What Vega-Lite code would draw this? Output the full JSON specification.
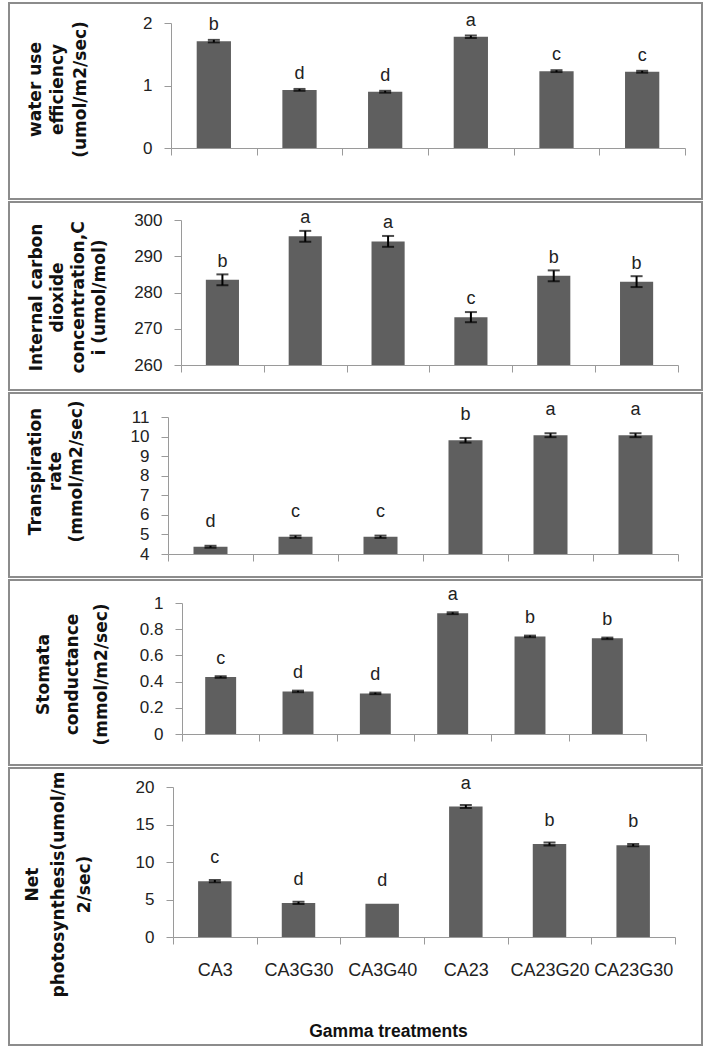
{
  "$schema": "https://vega.github.io/schema/vega-lite/v6.json",
  "background": "white",
  "padding": {"left": 8, "top": 2, "right": 0, "bottom": 0},
  "spacing": 1,
  "datasets": {
    "wue": [
      {"treatment": "CA3", "value": 1.71, "se": 0.02, "letter": "b"},
      {"treatment": "CA3G30", "value": 0.93, "se": 0.015, "letter": "d"},
      {"treatment": "CA3G40", "value": 0.9, "se": 0.015, "letter": "d"},
      {"treatment": "CA23", "value": 1.78, "se": 0.02, "letter": "a"},
      {"treatment": "CA23G20", "value": 1.23, "se": 0.015, "letter": "c"},
      {"treatment": "CA23G30", "value": 1.22, "se": 0.015, "letter": "c"}
    ],
    "ci": [
      {"treatment": "CA3", "value": 283.5, "se": 1.5, "letter": "b"},
      {"treatment": "CA3G30", "value": 295.5, "se": 1.5, "letter": "a"},
      {"treatment": "CA3G40", "value": 294.1, "se": 1.5, "letter": "a"},
      {"treatment": "CA23", "value": 273.2, "se": 1.4, "letter": "c"},
      {"treatment": "CA23G20", "value": 284.6, "se": 1.5, "letter": "b"},
      {"treatment": "CA23G30", "value": 283.0, "se": 1.5, "letter": "b"}
    ],
    "tr": [
      {"treatment": "CA3", "value": 4.37, "se": 0.05, "letter": "d"},
      {"treatment": "CA3G30", "value": 4.88, "se": 0.06, "letter": "c"},
      {"treatment": "CA3G40", "value": 4.88, "se": 0.06, "letter": "c"},
      {"treatment": "CA23", "value": 9.81, "se": 0.12, "letter": "b"},
      {"treatment": "CA23G20", "value": 10.07, "se": 0.1, "letter": "a"},
      {"treatment": "CA23G30", "value": 10.07, "se": 0.1, "letter": "a"}
    ],
    "gs": [
      {"treatment": "CA3", "value": 0.435, "se": 0.006, "letter": "c"},
      {"treatment": "CA3G30", "value": 0.325, "se": 0.006, "letter": "d"},
      {"treatment": "CA3G40", "value": 0.31, "se": 0.006, "letter": "d"},
      {"treatment": "CA23", "value": 0.922, "se": 0.007, "letter": "a"},
      {"treatment": "CA23G20", "value": 0.745, "se": 0.006, "letter": "b"},
      {"treatment": "CA23G30", "value": 0.73, "se": 0.006, "letter": "b"}
    ],
    "pn": [
      {"treatment": "CA3", "value": 7.45, "se": 0.15, "letter": "c"},
      {"treatment": "CA3G30", "value": 4.55, "se": 0.15, "letter": "d"},
      {"treatment": "CA3G40", "value": 4.42, "se": 0, "letter": "d"},
      {"treatment": "CA23", "value": 17.4, "se": 0.2, "letter": "a"},
      {"treatment": "CA23G20", "value": 12.4, "se": 0.2, "letter": "b"},
      {"treatment": "CA23G30", "value": 12.25, "se": 0.15, "letter": "b"}
    ]
  },
  "vconcat": [
    {
      "width": 693, "height": 196,
      "data": {"name": "wue"},
      "encoding": {
        "x": {"field": "treatment", "type": "nominal", "sort": null,
          "scale": {"range": [162, 676], "paddingInner": 0, "paddingOuter": 0},
          "axis": {"offset": -51, "labels": false, "title": null}},
        "y": {"field": "value", "type": "quantitative",
          "scale": {"domain": [0, 2], "range": [145, 20], "nice": false, "zero": false},
          "axis": {"offset": -162, "values": [0, 1, 2], "title": ["water use", "efficiency", "(umol/m2/sec)"], "titleX": -136, "titleY": 86, "titleLineHeight": 22.5}}
      },
      "layer": [
        {"mark": {"type": "bar", "width": {"band": 0.4}, "color": "#5f5f5f"}, "encoding": {"y2": {"datum": 0}}},
        {"transform": [{"filter": "datum.se > 0"}], "mark": {"type": "errorbar", "ticks": true, "size": 12, "thickness": 2, "color": "black"}, "encoding": {"yError": {"field": "se"}}},
        {"mark": {"type": "text", "baseline": "alphabetic", "dy": -11, "font": "Liberation Sans", "fontSize": 18, "color": "#222"}, "encoding": {"text": {"field": "letter"}}}
      ]
    },
    {
      "width": 693, "height": 188,
      "data": {"name": "ci"},
      "encoding": {
        "x": {"field": "treatment", "type": "nominal", "sort": null,
          "scale": {"range": [172, 669], "paddingInner": 0, "paddingOuter": 0},
          "axis": {"offset": -25, "labels": false, "title": null}},
        "y": {"field": "value", "type": "quantitative",
          "scale": {"domain": [260, 300], "range": [163, 18], "nice": false, "zero": false},
          "axis": {"offset": -172, "values": [260, 270, 280, 290, 300], "title": ["Internal carbon", "dioxide", "concentration,C", "i (umol/mol)"], "titleX": -145, "titleY": 95, "titleLineHeight": 21.3}}
      },
      "layer": [
        {"mark": {"type": "bar", "width": {"band": 0.4}, "color": "#5f5f5f"}, "encoding": {"y2": {"datum": 260}}},
        {"transform": [{"filter": "datum.se > 0"}], "mark": {"type": "errorbar", "ticks": true, "size": 12, "thickness": 2, "color": "black"}, "encoding": {"yError": {"field": "se"}}},
        {"mark": {"type": "text", "baseline": "alphabetic", "dy": -13, "font": "Liberation Sans", "fontSize": 18, "color": "#222"}, "encoding": {"text": {"field": "letter"}}}
      ]
    },
    {
      "width": 693, "height": 184,
      "data": {"name": "tr"},
      "encoding": {
        "x": {"field": "treatment", "type": "nominal", "sort": null,
          "scale": {"range": [159, 669], "paddingInner": 0, "paddingOuter": 0},
          "axis": {"offset": -23, "labels": false, "title": null}},
        "y": {"field": "value", "type": "quantitative",
          "scale": {"domain": [4, 11], "range": [161, 24], "nice": false, "zero": false},
          "axis": {"offset": -159, "values": [4, 5, 6, 7, 8, 9, 10, 11], "title": ["Transpiration", "rate", "(mmol/m2/sec)"], "titleX": -133, "titleY": 78, "titleLineHeight": 20.5}}
      },
      "layer": [
        {"mark": {"type": "bar", "width": {"band": 0.4}, "color": "#5f5f5f"}, "encoding": {"y2": {"datum": 4}}},
        {"transform": [{"filter": "datum.se > 0"}], "mark": {"type": "errorbar", "ticks": true, "size": 12, "thickness": 2, "color": "black"}, "encoding": {"yError": {"field": "se"}}},
        {"mark": {"type": "text", "baseline": "alphabetic", "dy": -20, "font": "Liberation Sans", "fontSize": 18, "color": "#222"}, "encoding": {"text": {"field": "letter"}}}
      ]
    },
    {
      "width": 693, "height": 185,
      "data": {"name": "gs"},
      "encoding": {
        "x": {"field": "treatment", "type": "nominal", "sort": null,
          "scale": {"range": [173, 637], "paddingInner": 0, "paddingOuter": 0},
          "axis": {"offset": -31, "labels": false, "title": null}},
        "y": {"field": "value", "type": "quantitative",
          "scale": {"domain": [0, 1], "range": [154, 23], "nice": false, "zero": false},
          "axis": {"offset": -173, "values": [0, 0.2, 0.4, 0.6, 0.8, 1], "title": ["Stomata", "conductance", "(mmol/m2/sec)"], "titleX": -139, "titleY": 94, "titleLineHeight": 29}}
      },
      "layer": [
        {"mark": {"type": "bar", "width": {"band": 0.4}, "color": "#5f5f5f"}, "encoding": {"y2": {"datum": 0}}},
        {"transform": [{"filter": "datum.se > 0"}], "mark": {"type": "errorbar", "ticks": true, "size": 12, "thickness": 2, "color": "black"}, "encoding": {"yError": {"field": "se"}}},
        {"mark": {"type": "text", "baseline": "alphabetic", "dy": -13, "font": "Liberation Sans", "fontSize": 18, "color": "#222"}, "encoding": {"text": {"field": "letter"}}}
      ]
    },
    {
      "width": 693, "height": 277,
      "data": {"name": "pn"},
      "encoding": {
        "x": {"field": "treatment", "type": "nominal", "sort": null,
          "scale": {"range": [164, 666], "paddingInner": 0, "paddingOuter": 0},
          "axis": {"offset": -108, "labels": true, "labelPadding": 17, "title": "Gamma treatments", "titleX": 379, "titleY": 94, "titleAlign": "center"}},
        "y": {"field": "value", "type": "quantitative",
          "scale": {"domain": [0, 20], "range": [169, 19], "nice": false, "zero": false},
          "axis": {"offset": -164, "values": [0, 5, 10, 15, 20], "title": ["Net", "photosynthesis(umol/m", "2/sec)"], "titleX": -141, "titleY": 116, "titleLineHeight": 26}}
      },
      "layer": [
        {"mark": {"type": "bar", "width": {"band": 0.4}, "color": "#5f5f5f"}, "encoding": {"y2": {"datum": 0}}},
        {"transform": [{"filter": "datum.se > 0"}], "mark": {"type": "errorbar", "ticks": true, "size": 12, "thickness": 2, "color": "black"}, "encoding": {"yError": {"field": "se"}}},
        {"mark": {"type": "text", "baseline": "alphabetic", "dy": -18, "font": "Liberation Sans", "fontSize": 18, "color": "#222"}, "encoding": {"text": {"field": "letter"}}}
      ]
    }
  ],
  "config": {
    "view": {"stroke": "#8c8c8c", "strokeWidth": 2},
    "axis": {
      "grid": false,
      "domainColor": "#9a9a9a",
      "tickColor": "#9a9a9a",
      "domainWidth": 1,
      "tickWidth": 1,
      "tickSize": 7,
      "labelFont": "Liberation Sans",
      "labelFontSize": 17,
      "labelColor": "#222",
      "labelPadding": 12,
      "titleFont": "DejaVu Sans",
      "titleFontWeight": "bold",
      "titleFontSize": 17,
      "titleColor": "#111"
    },
    "axisY": {"titleAngle": 270, "titleBaseline": "middle", "titleAlign": "center", "format": "~r"},
    "axisX": {"tickBand": "extent", "labelAngle": 0, "labelFontSize": 18, "labelOverlap": false, "titleFont": "Liberation Sans", "titleFontSize": 17.5, "titleBaseline": "middle"}
  }
}
